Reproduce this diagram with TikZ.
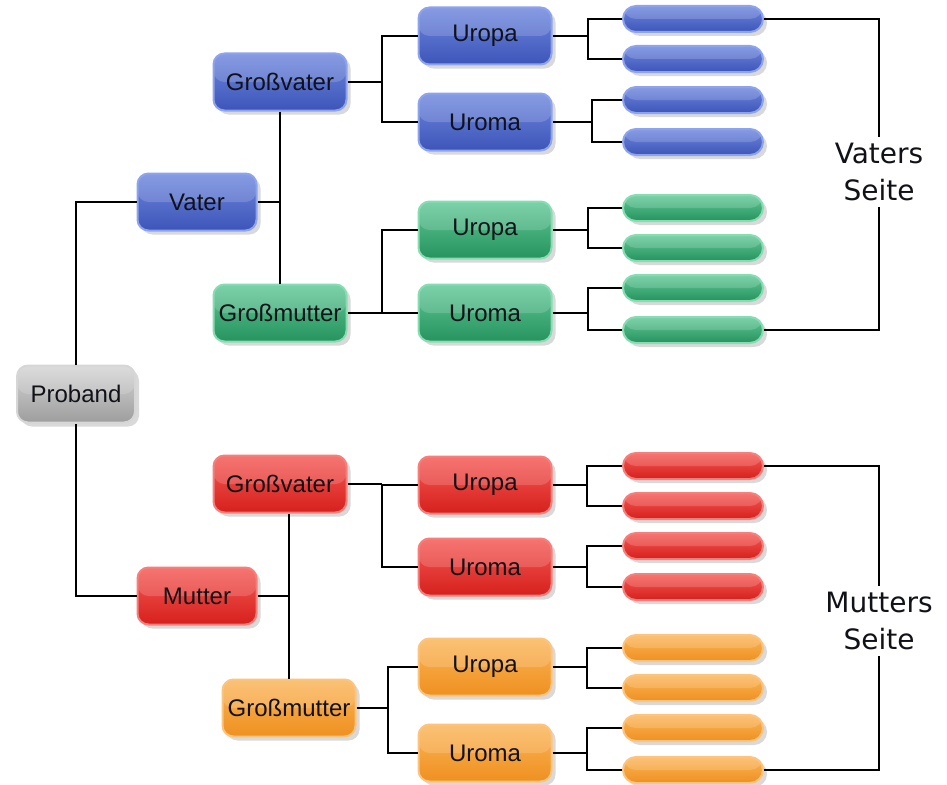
\documentclass[tikz,border=0pt]{standalone}
\usepackage{fontspec}
\setmainfont{Liberation Sans}
\newfontfamily\sidefont{DejaVu Sans}
\usetikzlibrary{shadows}
\definecolor{bluemid}{HTML}{4A66CC}
\definecolor{bluetop}{HTML}{6F88DE}
\definecolor{bluebot}{HTML}{3D55B8}
\definecolor{blueedge}{HTML}{8EA3EE}
\definecolor{greenmid}{HTML}{35B07A}
\definecolor{greentop}{HTML}{62C997}
\definecolor{greenbot}{HTML}{26935F}
\definecolor{greenedge}{HTML}{86DDB2}
\definecolor{redmid}{HTML}{EE2E2A}
\definecolor{redtop}{HTML}{F55A55}
\definecolor{redbot}{HTML}{D6201C}
\definecolor{rededge}{HTML}{F77F7B}
\definecolor{orangemid}{HTML}{F7A033}
\definecolor{orangetop}{HTML}{FBB65A}
\definecolor{orangebot}{HTML}{EF9020}
\definecolor{orangeedge}{HTML}{FCC47E}
\definecolor{greymid}{HTML}{B8B8B8}
\definecolor{greytop}{HTML}{D5D5D5}
\definecolor{greybot}{HTML}{9E9E9E}
\definecolor{greyedge}{HTML}{D6D6D6}
\definecolor{txt}{HTML}{101218}
\tikzset{
  x=1pt, y=-1pt,
  base/.style={rounded corners=11pt, line width=2pt, inner sep=0pt,
    font=\fontsize{24}{28}\selectfont, text=txt,
    drop shadow={opacity=0.3, shadow xshift=4pt, shadow yshift=-4pt},
    path picture={\fill[white,opacity=0.16] (path picture bounding box.north west) rectangle (path picture bounding box.east);}},
  box/.style={base, minimum width=133pt, minimum height=57pt},
  pill/.style={base, rounded corners=13pt, minimum width=140pt, minimum height=26pt},
  cblue/.style={top color=bluetop, middle color=bluemid, bottom color=bluebot, draw=blueedge},
  cgreen/.style={top color=greentop, middle color=greenmid, bottom color=greenbot, draw=greenedge},
  cred/.style={top color=redtop, middle color=redmid, bottom color=redbot, draw=rededge},
  corange/.style={top color=orangetop, middle color=orangemid, bottom color=orangebot, draw=orangeedge},
  cgrey/.style={top color=greytop, middle color=greymid, bottom color=greybot, draw=greyedge},
  conn/.style={line width=2.2pt, draw=black},
  sidelabel/.style={font=\sidefont\fontsize{28}{37}\selectfont, align=center, inner sep=6pt, text=txt}
}
\begin{document}
\begin{tikzpicture}
\useasboundingbox (0,0) rectangle (947,784);
% main boxes
\node[box, cgrey, minimum width=118pt] (proband) at (76,394) {Proband};
\node[box, cblue, minimum width=119pt] (vater) at (197,202) {Vater};
\node[box, cred, minimum width=119pt] (mutter) at (197,596) {Mutter};
\node[box, cblue] (gvv) at (280,82) {Großvater};
\node[box, cgreen] (gmv) at (280,313) {Großmutter};
\node[box, cred] (gvm) at (280,484) {Großvater};
\node[box, corange] (gmm) at (289,708) {Großmutter};
% great-grandparents
\node[box, cblue] (upa1) at (485,36) {Uropa};
\node[box, cblue] (uma1) at (485,122) {Uroma};
\node[box, cgreen] (upa2) at (485,230) {Uropa};
\node[box, cgreen] (uma2) at (485,313) {Uroma};
\node[box, cred] (upa3) at (485,485) {Uropa};
\node[box, cred] (uma3) at (485,567) {Uroma};
\node[box, corange] (upa4) at (485,667) {Uropa};
\node[box, corange] (uma4) at (485,753) {Uroma};
% pills
\foreach \n/\y/\c in {b1/19/cblue, b2/59/cblue, b3/100/cblue, b4/142/cblue,
  g1/208/cgreen, g2/248/cgreen, g3/288/cgreen, g4/330/cgreen,
  r1/466/cred, r2/506/cred, r3/546/cred, r4/587/cred,
  o1/648/corange, o2/688/corange, o3/728/corange, o4/770/corange}
  \node[pill, \c] (\n) at (693,\y) {};
% side labels
\node[sidelabel] (vs) at (879,172) {Vaters\\Seite};
\node[sidelabel] (ms) at (879,621) {Mutters\\Seite};
% proband connectors
\draw[conn] (vater.west) -| (proband.north);
\draw[conn] (mutter.west) -| (proband.south);
% parent connectors
\draw[conn] (gvv.south) -- (gmv.north);
\draw[conn] (vater.east) -- (vater.east -| gvv.south);
\draw[conn] (gmm.north) -- (gmm.north |- gvm.south);
\draw[conn] (mutter.east) -- (mutter.east -| gmm.north);
% grandparent connectors
\coordinate (k1) at (382,0);
\coordinate (k2) at (382,0);
\coordinate (k3) at (382,0);
\coordinate (k4) at (388,0);
\draw[conn] (upa1.west) -| (k1 |- uma1.west) -- (uma1.west);
\draw[conn] (gvv.east) -- (gvv.east -| k1);
\draw[conn] (upa2.west) -| (k2 |- uma2.west) -- (uma2.west);
\draw[conn] (gmv.east) -- (gmv.east -| k2);
\draw[conn] (upa3.west) -| (k3 |- uma3.west) -- (uma3.west);
\draw[conn] (gvm.east) -- (gvm.east -| k3);
\draw[conn] (upa4.west) -| (k4 |- uma4.west) -- (uma4.west);
\draw[conn] (gmm.east) -- (gmm.east -| k4);
% great-grandparent connectors
\foreach \u/\a/\b/\x in {upa1/b1/b2/588, uma1/b3/b4/592, upa2/g1/g2/588, uma2/g3/g4/588,
  upa3/r1/r2/587, uma3/r3/r4/587, upa4/o1/o2/587, uma4/o3/o4/587} {
  \coordinate (j) at (\x,0);
  \draw[conn] (\a.west) -| (j |- \b.west) -- (\b.west);
  \draw[conn] (\u.east) -- (\u.east -| j);
}
% brackets
\draw[conn] (b1.east) -| (vs.north);
\draw[conn] (vs.south) |- (g4.east);
\draw[conn] (r1.east) -| (ms.north);
\draw[conn] (ms.south) |- (o4.east);
\end{tikzpicture}
\end{document}
